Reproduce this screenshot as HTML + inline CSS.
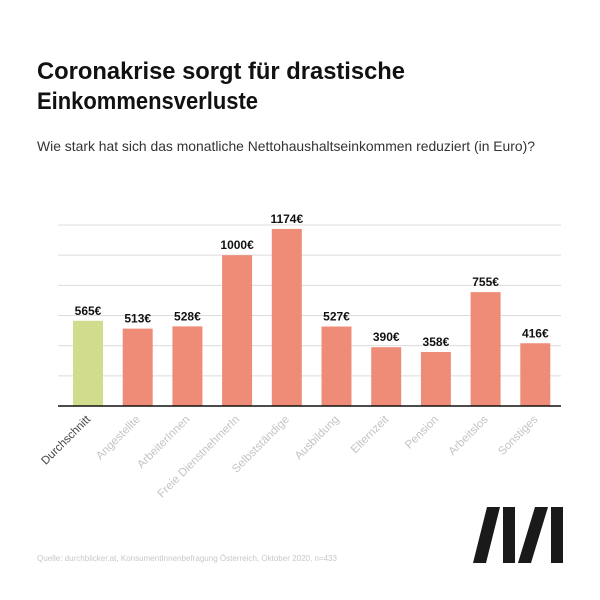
<!DOCTYPE html>
<html><head><meta charset="utf-8"><style>
html,body{margin:0;padding:0;background:#fff;}
svg{display:block;font-family:"Liberation Sans",sans-serif;}
</style></head><body>
<svg id="chart" width="600" height="600" viewBox="0 0 600 600">
<text x="37" y="79" font-size="24" font-weight="bold" fill="#111" textLength="368" lengthAdjust="spacingAndGlyphs">Coronakrise sorgt für drastische</text>
<text x="37" y="109" font-size="24" font-weight="bold" fill="#111" textLength="221" lengthAdjust="spacingAndGlyphs">Einkommensverluste</text>
<text x="37" y="151" font-size="14" fill="#333" textLength="498" lengthAdjust="spacingAndGlyphs">Wie stark hat sich das monatliche Nettohaushaltseinkommen reduziert (in Euro)?</text>
<g id="grid"></g>
<g id="bars"></g>
<line x1="58" y1="406" x2="561" y2="406" stroke="#111" stroke-width="1.5"/>
<text x="37" y="561" font-size="8.5" fill="#c8c8c8" textLength="300" lengthAdjust="spacingAndGlyphs">Quelle: durchblicker.at, KonsumentInnenbefragung Österreich, Oktober 2020, n=433</text>
<g fill="#1a1a1a">
<polygon points="473,563 486,563 500,507 487,507"/>
<rect x="503" y="507" width="12" height="56"/>
<polygon points="518,563 531,563 548,507 535,507"/>
<rect x="551" y="507" width="12" height="56"/>
</g>
</svg>
<script>
const categories = ["Durchschnitt","Angestellte","ArbeiterInnen","Freie DienstnehmerIn","Selbstständige","Ausbildung","Elternzeit","Pension","Arbeitslos","Sonstiges"];
const values = [565,513,528,1000,1174,527,390,358,755,416];
const valueLabels = ["565€","513€","528€","1000€","1174€","527€","390€","358€","755€","416€"];
const gridTicks = [200,400,600,800,1000,1200];

const NS = "http://www.w3.org/2000/svg";
const baseY = 406, pxPerUnit = 181/1200;
const yScale = v => baseY - v * pxPerUnit;
const firstX = 73, step = 49.7, barW = 30;
const xScale = i => firstX + i * step;

const grid = document.getElementById('grid');
gridTicks.forEach(t => {
  const l = document.createElementNS(NS, 'line');
  l.setAttribute('x1', 58); l.setAttribute('x2', 561);
  l.setAttribute('y1', yScale(t)); l.setAttribute('y2', yScale(t));
  l.setAttribute('stroke', '#dcdcdc'); l.setAttribute('stroke-width', '1');
  
  
  grid.appendChild(l);
});

const bars = document.getElementById('bars');
values.forEach((v, i) => {
  const x = xScale(i), y = yScale(v);
  const r = document.createElementNS(NS, 'rect');
  r.setAttribute('x', x); r.setAttribute('y', y);
  r.setAttribute('width', barW); r.setAttribute('height', baseY - y);
  r.setAttribute('fill', i === 0 ? '#d1dc8c' : '#ef8c78');
  
  
  bars.appendChild(r);

  const t = document.createElementNS(NS, 'text');
  t.setAttribute('x', x + barW / 2); t.setAttribute('y', y - 6);
  t.setAttribute('text-anchor', 'middle');
  t.setAttribute('font-size', '12'); t.setAttribute('font-weight', 'bold');
  t.setAttribute('fill', '#111');
  t.textContent = valueLabels[i];
  
  
  bars.appendChild(t);

  const c = document.createElementNS(NS, 'text');
  const cx = x + barW / 2 + 3, cy = 420;
  c.setAttribute('x', cx); c.setAttribute('y', cy);
  c.setAttribute('text-anchor', 'end');
  c.setAttribute('font-size', '11.5');
  c.setAttribute('fill', i === 0 ? '#444' : '#c4c4c4');
  c.setAttribute('transform', 'rotate(-45 ' + cx + ' ' + cy + ')');
  c.textContent = categories[i];
  
  
  bars.appendChild(c);
});
</script>
</body></html>
